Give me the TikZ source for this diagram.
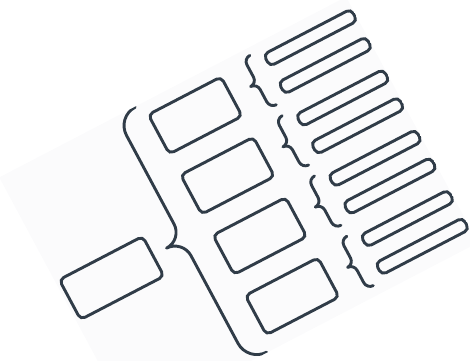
\documentclass[tikz,border=0pt]{standalone}
\definecolor{ink}{RGB}{48,60,72}
\definecolor{paper}{RGB}{251,251,252}
\begin{document}
\begin{tikzpicture}[x=1pt,y=1pt,
  outline/.style={draw=ink,line width=2.9pt},
  rootbox/.style={outline,rectangle,rounded corners=5pt,minimum width=94pt,minimum height=45.2pt,inner sep=0pt,transform shape},
  midbox/.style={outline,rectangle,rounded corners=5pt,minimum width=82pt,minimum height=44.6pt,inner sep=0pt,transform shape},
  leafbar/.style={outline,rectangle,rounded corners=5pt,minimum width=98.5pt,minimum height=13.5pt,inner sep=0pt,transform shape},
  bracket/.style={outline,line cap=round,line join=round}]
\useasboundingbox (0,0) rectangle (470,-360);
\begin{scope}[cm={0.887,0.4617,-0.4726,0.8813,(0,0)}]
  \fill[paper] (-84.5,-157) rectangle (306.5,-436);
  \clip (-84.5,-157) rectangle (306.5,-436);
  \node[rootbox] (root) at (-33,-298.1) {};
  % big brace
  \draw[bracket] (68.5,-157.5) arc[start angle=90,end angle=180,radius=21pt]
    -- (47.5,-279) arc[start angle=0,end angle=-90,radius=18pt]
    arc[start angle=90,end angle=0,radius=18pt]
    -- (47.5,-414.5) arc[start angle=180,end angle=270,radius=21pt];
  \foreach \k in {0,1,2,3}{
    \pgfmathsetmacro\c{192.5+68.4*\k}
    \pgfmathsetmacro\ca{\c-15.75}
    \pgfmathsetmacro\cb{\c+15.75}
    \node[midbox] (m\k) at (117.5,-\c) {};
    \node[leafbar] (l\k a) at (255.75,-\ca) {};
    \node[leafbar] (l\k b) at (255.75,-\cb) {};
    \draw[bracket] (194,{-\c+28}) arc[start angle=90,end angle=180,radius=7pt]
      -- (187,{-\c+7}) arc[start angle=0,end angle=-90,radius=7pt]
      arc[start angle=90,end angle=0,radius=7pt]
      -- (187,{-\c-21}) arc[start angle=180,end angle=270,radius=7pt];
  }
\end{scope}
\end{tikzpicture}
\end{document}
